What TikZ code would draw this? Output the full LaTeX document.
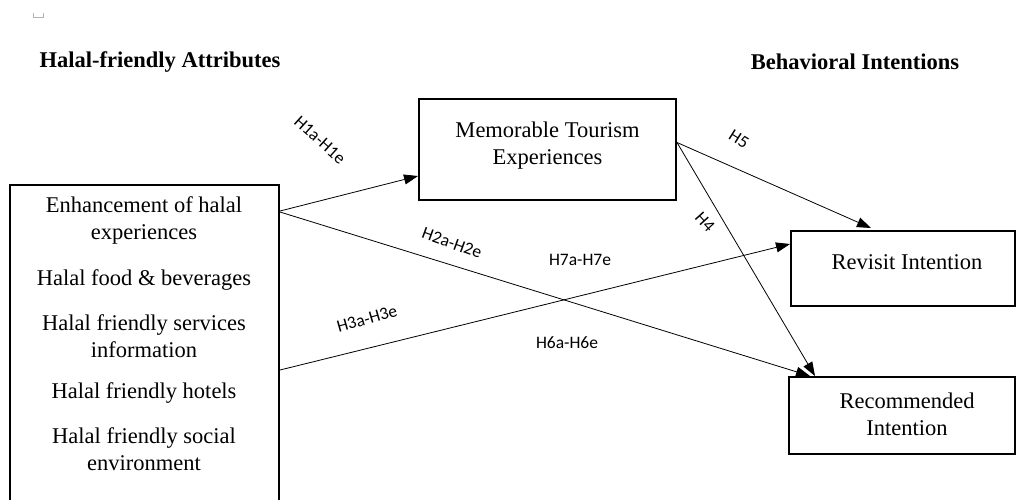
\documentclass[tikz,border=0pt]{standalone}
\usepackage{fontspec}
\setmainfont{Liberation Serif}
\newfontfamily\labfont{Carlito}
\usetikzlibrary{arrows.meta}
\begin{document}
\begin{tikzpicture}[x=1pt,y=-1pt,
  box/.style={draw,line width=2pt,align=center,inner sep=0pt,font=\fontsize{22.5}{27}\selectfont},
  item/.style={align=center,inner sep=0pt,font=\fontsize{22.5}{27}\selectfont},
  head/.style={inner sep=0pt,font=\fontsize{22.5}{27}\selectfont\bfseries},
  conn/.style={line width=0.8pt,-{Triangle[length=14pt,width=10pt]}},
  hyp/.style={inner sep=0pt,font=\labfont\fontsize{17.5}{20}\selectfont}]
\useasboundingbox (0,0) rectangle (1023,499);
\clip (0,0) rectangle (1023,499);
% small mark
\draw[gray!60,line width=0.6pt] (33,13) -- (33,17) -- (43,17) -- (43,13);
% headers
\node[head] (h1) at (160,62) {Halal-friendly Attributes};
\node[head] (h2) at (855,62) {Behavioral Intentions};
% boxes
\node[box,minimum width=269pt,minimum height=330pt] (attr) at (144.5,350) {};
\node[item] (i1) at (144,220) {Enhancement of halal\\experiences};
\node[item] (i2) at (144,280) {Halal food \& beverages};
\node[item] (i3) at (144,336.5) {Halal friendly services\\information};
\node[item] (i4) at (144,393) {Halal friendly hotels};
\node[item] (i5) at (144,449.5) {Halal friendly social\\environment};
\node[box,minimum width=257pt,minimum height=101pt] (mte) at (547.5,149.5) {};
\node[item] (mtet) at (547.5,145.5) {Memorable Tourism\\Experiences};
\node[box,minimum width=224pt,minimum height=75pt] (rev) at (903,268.5) {};
\node[item] (revt) at (907,262) {Revisit Intention};
\node[box,minimum width=226pt,minimum height=77pt] (rec) at (902,415.5) {};
\node[item] (rect) at (907,414) {Recommended\\Intention};
% connectors
\draw[conn] ([yshift=-27pt]attr.north east) -- ([yshift=-26.5pt]mte.west);
\draw[conn] ([yshift=-28pt]attr.north east) -- ([xshift=22pt]rec.north west);
\draw[conn] ([yshift=-186pt]attr.north east) -- ([yshift=-14pt]rev.north west);
\draw[conn] ([yshift=7pt]mte.east) -- ([xshift=81pt,yshift=2pt]rev.north west);
\draw[conn] ([yshift=7pt]mte.east) -- ([xshift=27pt]rec.north west);
% labels
\node[hyp,rotate=-42] (l1) at (320,140) {H1a-H1e};
\node[hyp,rotate=-20] (l2) at (452,243) {H2a-H2e};
\node[hyp] (l7) at (580,260) {H7a-H7e};
\node[hyp,rotate=16] (l3) at (367,319) {H3a-H3e};
\node[hyp] (l6) at (567,343) {H6a-H6e};
\node[hyp,rotate=-32] (l5) at (739,139) {H5};
\node[hyp,rotate=-48] (l4) at (705,222) {H4};
\end{tikzpicture}
\end{document}
